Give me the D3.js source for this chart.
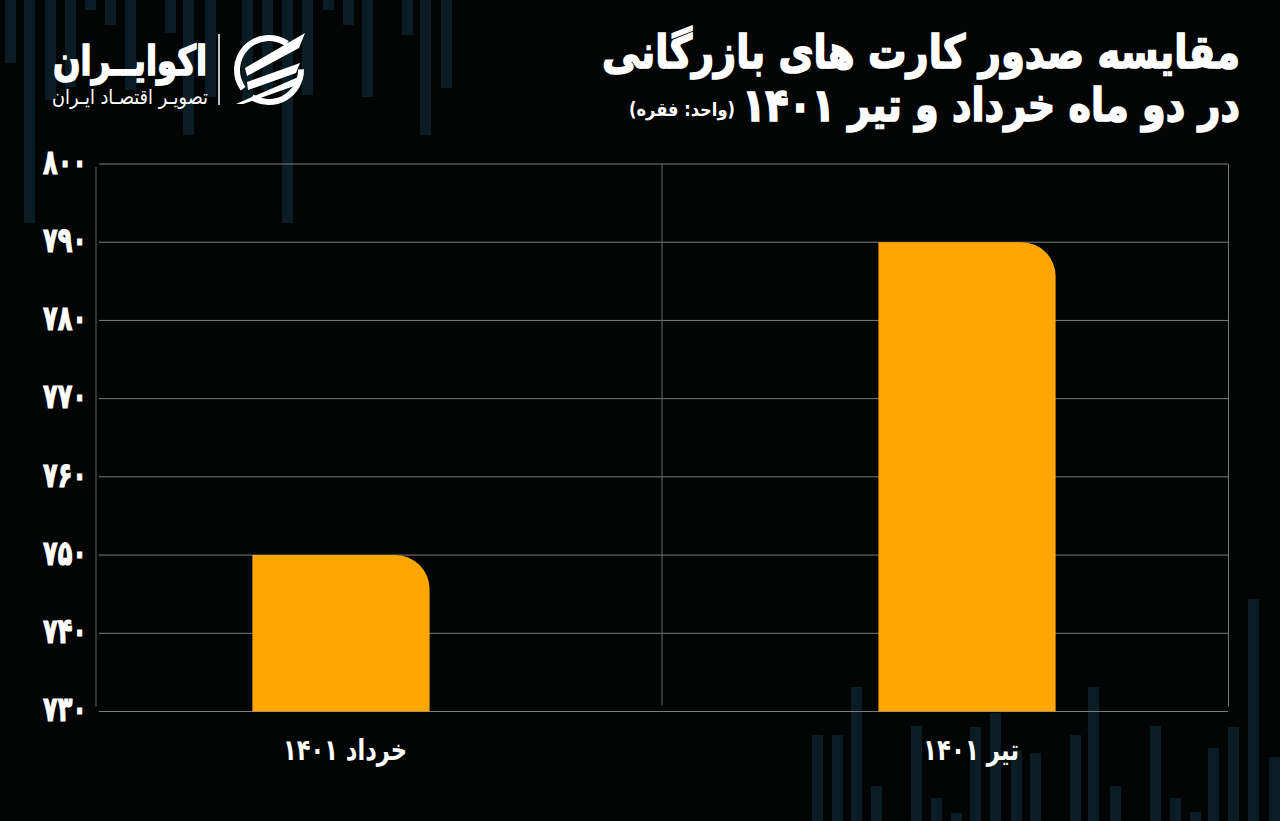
<!DOCTYPE html>
<html>
<head>
<meta charset="utf-8">
<script src="https://cdn.jsdelivr.net/npm/d3@7/dist/d3.min.js"></script>
<style>
  html, body { margin: 0; padding: 0; background: #030505; }
  svg { display: block; }
  text { font-family: "DejaVu Sans", sans-serif; }
</style>
</head>
<body>
<svg id="chart" width="1280" height="821"></svg>
<script>
// ---- data ----
const categories = ["خرداد ۱۴۰۱", "تیر ۱۴۰۱"];
const values = [750, 790];
const yTicks = [730, 740, 750, 760, 770, 780, 790, 800];
const titleLine1 = "مقایسه صدور کارت های بازرگانی";
const titleLine2 = "در دو ماه خرداد و تیر ۱۴۰۱";
const unitText = "(واحد: فقره)";
const logoName = "اکوایــران";
const logoTag = "تصویـر اقتصـاد ایـران";
// decorative background stripes [x, edge]
const decoTop = [[5,63],[24,223],[45,100],[65,87],[85,10],[105,25],[125,90],[165,33],[183,135],[205,97],
                 [242,100],[262,90],[282,223],[302,95],[323,10],[343,25],[362,97],[402,35],[420,135],[441,88]];
const decoBottom = [[812,735],[832,735],[851,687],[871,786],[911,726],[931,798],[951,813],[970,727],[990,713],
                    [1011,750],[1030,753],[1070,735],[1088,687],[1110,786],[1150,726],[1170,798],[1190,812],
                    [1208,748],[1228,727],[1248,599],[1269,757]];

const toFa = s => String(s).replace(/\d/g, d => "۰۱۲۳۴۵۶۷۸۹"[+d]);

const W = 1280, H = 821;
const svg = d3.select("#chart");
svg.append("rect").attr("width", W).attr("height", H).attr("fill", "#030505");

// decoration
const deco = svg.append("g");
deco.selectAll(".dt").data(decoTop).join("rect")
  .attr("x", d => d[0]).attr("y", 0).attr("width", 11).attr("height", d => d[1])
  .attr("fill", "#0a1d24");
deco.selectAll(".db").data(decoBottom).join("rect")
  .attr("x", d => d[0]).attr("y", d => d[1]).attr("width", 11).attr("height", d => H - d[1])
  .attr("fill", "#0a1d24");

// scales
const y = d3.scaleLinear().domain([730, 800]).range([711.5, 164]);
const x = d3.scaleBand().domain(categories).range([99, 1209]).paddingInner(0.717).paddingOuter(0.245);

// gridlines
const grid = svg.append("g");
grid.selectAll("line").data(yTicks).join("line")
  .attr("x1", 99).attr("x2", 1228)
  .attr("y1", d => y(d)).attr("y2", d => y(d))
  .attr("stroke", "#7d7d7d").attr("stroke-width", 1);
// vertical frame lines
svg.append("line").attr("x1", 96).attr("x2", 96).attr("y1", y(800) + 3).attr("y2", y(730) - 5)
  .attr("stroke", "#555").attr("stroke-width", 1.2);
svg.append("line").attr("x1", 662).attr("x2", 662).attr("y1", y(800)).attr("y2", y(730) - 6)
  .attr("stroke", "#666").attr("stroke-width", 1);
svg.append("line").attr("x1", 1228.5).attr("x2", 1228.5).attr("y1", y(800)).attr("y2", y(730) - 5)
  .attr("stroke", "#777").attr("stroke-width", 1);

// fit helper
function fit(sel, target) {
  const w = sel.node().getComputedTextLength();
  const fs = parseFloat(sel.attr("font-size"));
  sel.attr("font-size", fs * target / w);
}
// text placed at (px,py) and stretched vertically about its baseline
function rtlText(str, px, py, size, opts) {
  const o = Object.assign({bold: true, stroke: 0, width: null, sy: 1.3, anchor: "start"}, opts || {});
  const t = svg.append("text").text(str).attr("x", 0).attr("y", 0)
    .attr("transform", `translate(${px},${py}) scale(1,${o.sy})`)
    .attr("fill", "#fff").attr("font-size", size)
    .attr("font-weight", o.bold ? "bold" : "normal")
    .attr("direction", "rtl").attr("text-anchor", o.anchor);
  if (o.stroke) t.attr("stroke", "#fff").attr("stroke-width", o.stroke);
  if (o.width) fit(t, o.width);
  return t;
}

// y axis labels
const yAxis = d3.axisLeft(y).tickValues(yTicks).tickSize(0).tickPadding(0).tickFormat(d => toFa(d));
const ya = svg.append("g").attr("transform", "translate(87,0)").call(yAxis);
ya.select(".domain").remove();
ya.selectAll("text").attr("fill", "#fff").attr("font-size", 24).attr("font-weight", "bold")
  .attr("font-family", "DejaVu Sans").attr("dy", "0.32em").attr("text-anchor", "end")
  .attr("stroke", "#fff").attr("stroke-width", 0.8)
  .attr("transform", "translate(0,-2) scale(1,1.45)")
  .each(function() { fit(d3.select(this), 44); });

// bars with rounded top-right corner
const r = 34;
function barPath(x0, w, yTop, yBot) {
  const rr = Math.min(r, w, yBot - yTop);
  return `M${x0},${yBot}V${yTop}H${x0 + w - rr}A${rr},${rr} 0 0 1 ${x0 + w},${yTop + rr}V${yBot}Z`;
}
svg.append("g").selectAll("path").data(values).join("path")
  .attr("d", (d, i) => barPath(x(categories[i]), x.bandwidth(), y(d), y(730)))
  .attr("fill", "#ffa600");

// x labels
const xAxis = d3.axisBottom(x).tickSize(0).tickPadding(0);
const xa = svg.append("g").attr("transform", "translate(4,0)").call(xAxis);
xa.select(".domain").remove();
xa.selectAll("text").attr("y", 0).attr("dy", 0).attr("fill", "#fff").attr("font-size", 24)
  .attr("transform", "translate(0,760) scale(1,1.3)")
  .attr("font-weight", "bold").attr("font-family", "DejaVu Sans").attr("direction", "rtl")
  .each(function(d) { fit(d3.select(this), d === categories[0] ? 124 : 96); });

// title
rtlText(titleLine1, 1240, 68, 40, {stroke: 1.4, width: 638, sy: 1.2});
rtlText(titleLine2, 1240, 121, 40, {stroke: 1.4, width: 498, sy: 1.2});
rtlText(unitText, 735, 116, 17, {width: 106, sy: 1.15});

// logo
rtlText(logoName, 207, 75, 40, {stroke: 1.3, width: 154, sy: 1.28});
rtlText(logoTag, 208, 104, 16, {bold: false, width: 156, sy: 1.15});
svg.append("line").attr("x1", 219).attr("x2", 219).attr("y1", 34).attr("y2", 105)
  .attr("stroke", "#fff").attr("stroke-width", 1.5);

// logo icon
const icon = svg.append("g").attr("transform", "translate(269,70)");
const arc = d3.arc().innerRadius(29).outerRadius(35);
icon.append("path").attr("d", arc({startAngle: -2.2, endAngle: 0.6})).attr("fill", "#fff");
icon.append("path").attr("d", arc({startAngle: 1.55, endAngle: 3.7})).attr("fill", "#fff");
const stripes = [
  [[-24,-2],[36,-37],[30,-22],[-22,6]],
  [[-22,12],[31,-7],[27,3],[-21,20]],
  [[-33,34],[34,5],[28,15],[-26,34]]
];
icon.selectAll(".s").data(stripes).join("path")
  .attr("d", d => d3.line().curve(d3.curveLinearClosed)(d)).attr("fill", "#fff");
</script>
</body>
</html>
